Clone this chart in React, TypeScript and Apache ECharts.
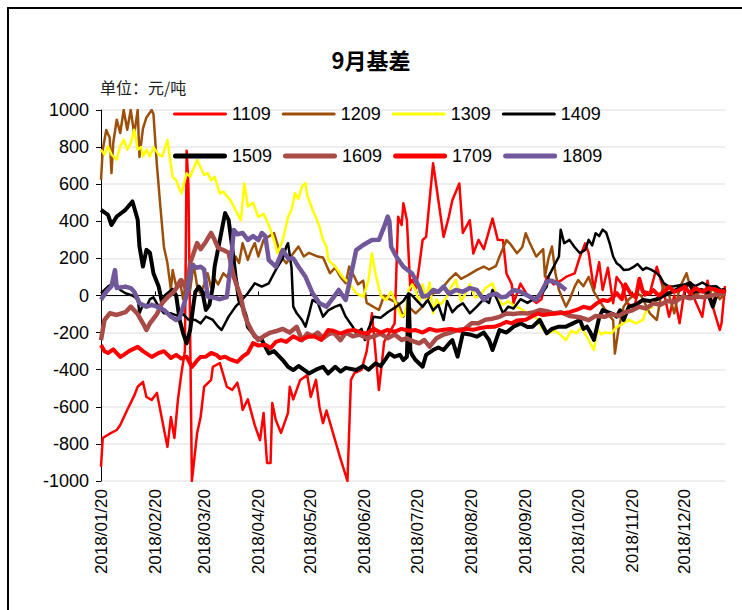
import React, { useEffect, useRef } from "react";
import * as echarts from "echarts";

// day offset from 2018/01/20, basis value (元/吨)
const s1109: number[][] = [[0,-924],[1,-768],[5,-745],[9,-725],[11,-698],[15,-617],[19,-540],[21,-492],[24,-466],[26,-547],[29,-563],[32,-525],[35,-671],[38,-816],[40,-655],[42,-768],[44,-563],[46,-420],[48,-300],[49,780],[50,600],[52,-1000],[55,-741],[57,-655],[59,-492],[63,-455],[64,-385],[68,-364],[72,-492],[75,-509],[78,-470],[80,-547],[81,-617],[84,-560],[88,-700],[91,-779],[93,-633],[95,-903],[97,-903],[98,-579],[100,-671],[103,-741],[107,-633],[108,-492],[110,-560],[114,-455],[118,-428],[120,-547],[123,-455],[125,-601],[127,-688],[129,-620],[133,-750],[137,-880],[141,-1000],[143,-455],[145,-418],[149,-401],[152,-300],[155,-96],[157,-300],[159,-510],[162,-250],[165,-200],[168,-150],[170,425],[172,380],[173,497],[175,407],[177,30],[178,84],[180,30],[182,154],[184,299],[186,316],[190,713],[193,514],[196,316],[199,424],[201,514],[205,604],[207,337],[211,406],[213,226],[216,300],[219,250],[224,415],[227,300],[230,298],[232,118],[235,60],[236,-42],[240,64],[244,0],[249,-40],[252,-20],[255,101],[259,60],[263,80],[266,100],[271,119],[274,209],[277,281],[279,230],[282,30],[285,180],[287,30],[290,150],[293,-42],[295,100],[298,60],[301,-40],[305,-70],[308,60],[311,0],[314,13],[318,155],[321,60],[325,-115],[328,0],[331,-150],[334,40],[337,60],[340,-30],[344,-115],[347,80],[350,-60],[354,-186],[355,-150],[357,50]];
const s1209: number[][] = [[0,624],[1,786],[3,892],[5,850],[6,660],[7,822],[9,948],[11,876],[13,1000],[15,894],[17,1000],[19,870],[21,1000],[22,747],[24,900],[26,960],[29,1000],[30,980],[32,700],[34,477],[36,262],[38,175],[40,30],[41,137],[43,50],[45,84],[47,-20],[49,100],[51,30],[53,170],[55,50],[57,10],[59,60],[61,120],[63,40],[65,90],[67,60],[70,120],[72,100],[75,150],[77,210],[79,175],[81,282],[84,192],[86,245],[88,282],[90,210],[93,300],[96,318],[99,336],[103,210],[106,174],[110,228],[113,264],[116,210],[119,230],[124,210],[127,205],[131,120],[134,150],[137,100],[140,66],[142,156],[145,100],[147,60],[150,80],[152,-40],[159,-78],[162,0],[165,-20],[170,-42],[173,-114],[176,-60],[180,-96],[184,-60],[187,-20],[190,12],[193,20],[196,48],[199,84],[203,120],[206,90],[210,110],[215,138],[219,156],[222,140],[226,160],[228,210],[232,299],[234,280],[238,228],[241,260],[243,336],[245,290],[249,210],[253,250],[254,102],[256,200],[258,264],[260,120],[262,30],[266,-60],[268,-24],[271,48],[273,83],[276,50],[279,100],[282,20],[286,-40],[290,-100],[293,-133],[294,-313],[296,-186],[299,-60],[302,-20],[306,12],[309,0],[314,-96],[318,-132],[320,-20],[322,66],[325,0],[328,-96],[331,40],[335,120],[337,50],[340,0],[344,30],[347,-10],[350,40],[354,-20],[357,10]];
const s1309: number[][] = [[0,786],[2,760],[4,804],[6,760],[9,732],[11,804],[13,840],[15,786],[17,822],[19,894],[21,786],[23,800],[24,750],[26,786],[28,750],[30,800],[33,760],[35,750],[38,838],[41,639],[43,620],[46,550],[49,658],[51,640],[55,730],[57,690],[59,650],[61,660],[63,620],[65,640],[68,550],[70,560],[74,514],[77,460],[80,406],[82,604],[84,480],[87,500],[90,423],[93,440],[96,380],[99,299],[101,228],[104,299],[107,423],[109,462],[111,552],[113,520],[115,588],[117,606],[118,540],[121,462],[123,420],[125,372],[127,300],[129,264],[130,192],[134,156],[138,102],[142,66],[146,12],[150,-6],[153,80],[155,228],[157,120],[160,0],[163,-24],[166,20],[169,-50],[172,-114],[174,-100],[176,30],[178,60],[180,30],[182,-40],[184,60],[186,-20],[188,70],[190,-96],[192,-20],[194,-50],[197,-20],[200,40],[203,84],[206,-30],[208,0],[211,60],[214,-10],[217,0],[220,40],[224,66],[227,-20],[230,-50],[233,-30],[237,-60],[240,-70],[243,-90],[246,-100],[249,-120],[253,-186],[256,-204],[259,-190],[262,-204],[266,-240],[269,-190],[272,-204],[275,-170],[279,-240],[282,-294],[284,-180],[286,-210],[288,-200],[292,-204],[295,-170],[299,-150],[302,-130],[306,-150],[310,-132],[312,-78],[316,-60]];
const s1409: number[][] = [[0,12],[4,48],[7,66],[11,30],[14,12],[18,0],[21,-20],[22,-96],[24,-50],[26,-60],[28,-20],[30,-10],[33,-60],[36,-96],[40,-96],[44,-110],[47,-100],[50,-130],[54,-132],[57,-150],[60,-114],[64,-132],[67,-168],[69,-186],[73,-114],[77,-60],[81,-20],[84,12],[88,66],[92,48],[96,66],[100,138],[104,200],[106,264],[107,282],[109,150],[110,-60],[112,-96],[115,-132],[117,-168],[119,-100],[121,-24],[124,-40],[127,-114],[130,-80],[134,-60],[137,-50],[140,-114],[144,-168],[146,-204],[149,-180],[151,-240],[153,-180],[156,-114],[160,-120],[164,-90],[169,-60],[173,-30],[176,12],[178,0],[181,-30],[184,-60],[187,-24],[190,-80],[193,-50],[196,-132],[198,-30],[201,-90],[204,-60],[207,-42],[211,-96],[215,-60],[219,-20],[222,-40],[224,30],[227,-30],[230,-96],[233,-60],[236,-70],[240,-20],[244,-40],[249,-10],[251,-6],[255,48],[256,102],[259,156],[262,210],[263,355],[265,282],[268,300],[271,260],[274,228],[277,246],[279,300],[281,270],[283,336],[285,320],[287,355],[289,340],[291,282],[293,210],[295,174],[297,160],[299,138],[302,140],[305,156],[307,170],[310,138],[312,150],[315,138],[318,120],[320,100],[322,66],[325,48],[328,50],[331,55],[334,60],[337,70],[340,50],[344,70],[348,48],[352,50],[356,20],[357,10]];
const s1509: number[][] = [[0,462],[4,435],[6,380],[9,426],[14,462],[18,507],[21,408],[22,264],[24,156],[26,246],[28,230],[30,120],[33,48],[35,-42],[37,0],[41,30],[43,0],[45,-132],[47,-204],[49,-258],[51,-186],[53,-42],[54,20],[56,48],[58,20],[60,-78],[62,-50],[64,48],[65,156],[68,300],[71,444],[73,408],[75,264],[77,100],[79,-24],[81,-60],[83,-114],[84,-168],[87,-204],[88,-222],[92,-240],[96,-312],[99,-300],[104,-348],[107,-384],[110,-402],[113,-380],[119,-420],[123,-400],[127,-384],[130,-420],[134,-384],[137,-410],[140,-390],[146,-402],[150,-380],[153,-400],[157,-366],[160,-380],[163,-340],[165,-312],[168,-330],[171,-320],[173,-348],[175,-330],[176,0],[177,-300],[178,-320],[180,-348],[184,-384],[186,-320],[190,-294],[193,-280],[196,-294],[199,-260],[201,-240],[204,-330],[207,-204],[211,-210],[215,-222],[219,-200],[222,-240],[224,-294],[228,-186],[232,-200],[236,-168],[240,-150],[244,-170],[247,-168],[251,-132],[255,-204],[258,-180],[262,-168],[266,-168],[270,-150],[274,-132],[276,-180],[278,-168],[280,-200],[282,-240],[285,-120],[287,-78],[290,-90],[293,-100],[295,-114],[297,-80],[299,-132],[302,-60],[306,-50],[310,-24],[314,-30],[318,-20],[322,0],[325,12],[329,30],[333,50],[337,66],[339,20],[343,30],[347,20],[350,-60],[352,0],[356,30],[357,20]];
const s1609: number[][] = [[0,-240],[2,-132],[5,-96],[9,-105],[14,-90],[17,-60],[21,-100],[24,-150],[26,-186],[28,-150],[32,-100],[35,-40],[38,-10],[41,13],[44,50],[46,83],[49,30],[51,175],[55,283],[57,250],[60,290],[63,337],[65,300],[67,257],[70,245],[73,230],[76,100],[80,-8],[82,-100],[84,-150],[87,-205],[90,-240],[93,-220],[97,-200],[101,-190],[104,-180],[108,-200],[112,-169],[115,-241],[118,-205],[121,-220],[124,-200],[127,-230],[130,-210],[133,-200],[137,-241],[140,-200],[144,-220],[148,-210],[152,-230],[156,-220],[160,-205],[164,-230],[168,-210],[172,-240],[175,-230],[178,-245],[182,-258],[185,-240],[188,-276],[192,-230],[196,-210],[200,-200],[204,-186],[208,-180],[212,-150],[216,-150],[220,-130],[224,-125],[228,-115],[232,-97],[236,-100],[240,-95],[244,-97],[248,-90],[251,-78],[255,-85],[259,-97],[263,-90],[268,-110],[272,-115],[275,-120],[279,-133],[283,-110],[288,-115],[292,-100],[296,-110],[300,-90],[304,-80],[308,-61],[312,-70],[316,-42],[320,-50],[324,-30],[328,-35],[333,-6],[337,-15],[341,-5],[345,-10],[349,0],[353,5],[357,11]];
const s1709: number[][] = [[0,-267],[2,-300],[4,-310],[7,-290],[11,-331],[13,-320],[16,-300],[21,-277],[24,-300],[29,-331],[33,-310],[36,-300],[40,-337],[43,-320],[46,-340],[49,-330],[52,-385],[55,-350],[57,-331],[60,-330],[63,-310],[66,-320],[68,-337],[71,-330],[74,-345],[78,-358],[81,-330],[84,-310],[87,-256],[90,-270],[94,-265],[97,-283],[100,-250],[103,-240],[106,-250],[110,-220],[114,-240],[118,-224],[122,-220],[126,-240],[130,-186],[133,-190],[137,-205],[141,-190],[145,-186],[149,-200],[152,-205],[156,-180],[160,-200],[164,-185],[168,-195],[172,-180],[176,-190],[180,-186],[184,-200],[188,-180],[192,-190],[196,-185],[200,-180],[205,-190],[209,-180],[213,-185],[217,-175],[221,-170],[225,-169],[229,-155],[232,-142],[235,-150],[238,-135],[243,-131],[247,-110],[250,-97],[253,-105],[257,-100],[260,-97],[264,-95],[268,-90],[272,-78],[276,-61],[280,-70],[284,-40],[287,-24],[290,-30],[293,-10],[295,13],[298,-20],[300,60],[303,10],[306,-10],[308,90],[310,20],[314,10],[316,29],[319,0],[322,20],[325,47],[328,20],[331,30],[334,47],[337,10],[340,40],[344,20],[348,40],[352,30],[356,20],[357,30]];
const s1809: number[][] = [[0,-23],[3,20],[6,50],[8,137],[9,40],[14,48],[17,40],[19,20],[22,-42],[26,-60],[29,-50],[32,-60],[36,-78],[40,-114],[43,-132],[45,-120],[47,-60],[49,0],[52,164],[55,150],[57,155],[59,140],[61,-6],[64,-10],[68,-20],[72,-8],[74,150],[76,353],[78,330],[81,337],[84,300],[87,320],[90,299],[92,337],[94,320],[96,191],[100,155],[104,245],[107,200],[110,200],[113,155],[117,101],[121,13],[125,-42],[129,-60],[133,-10],[136,30],[140,-24],[144,155],[146,245],[150,272],[155,299],[159,300],[162,371],[164,425],[165,400],[166,263],[169,209],[173,155],[178,119],[182,47],[184,-6],[187,0],[190,30],[193,20],[196,48],[199,10],[203,30],[207,20],[211,40],[215,30],[219,-24],[222,0],[226,10],[229,-10],[232,-5],[236,30],[240,20],[244,0],[249,-24],[252,20],[255,75],[258,80],[262,60],[266,30]];

const seriesNames = ["1109", "1209", "1309", "1409", "1509", "1609", "1709", "1809"];
const seriesData = [s1109, s1209, s1309, s1409, s1509, s1609, s1709, s1809];
const seriesColors = ["#FF0000", "#9C4F0A", "#FFFF00", "#000000", "#000000", "#A94C48", "#FF0000", "#71589A"];
const seriesWidths = [2.5, 2.5, 2.5, 2.5, 4, 4.5, 4, 4.5];

const startDate = Date.UTC(2018, 0, 20);
const dayCount = 358;
const pad = (n: number) => (n < 10 ? "0" + n : "" + n);
const categories: string[] = [];
for (let i = 0; i < dayCount; i++) {
  const d = new Date(startDate + i * 86400000);
  categories.push(d.getUTCFullYear() + "/" + pad(d.getUTCMonth() + 1) + "/" + pad(d.getUTCDate()));
}
const on20 = (_i: number, v: string) => v.slice(-3) === "/20";

const thinIcon = "path://M1.5,0H52.5A1.5,1.5 0 0 1 52.5,3H1.5A1.5,1.5 0 0 1 1.5,0Z";
const thickIcon = "path://M2.5,0H51.5A2.5,2.5 0 0 1 51.5,5H2.5A2.5,2.5 0 0 1 2.5,0Z";

export default function App() {
  const ref = useRef<HTMLDivElement>(null);
  useEffect(() => {
    if (!ref.current) return;
    const chart = echarts.init(ref.current, undefined, { renderer: "svg" });
    const font = "Liberation Sans";
    const legendBase = {
      left: 168,
      itemWidth: 54,
      itemHeight: 14,
      itemGap: 11,
      symbolKeepAspect: true,
      textStyle: { fontSize: 18, color: "#000", fontFamily: font },
    };
    chart.setOption({
      animation: false,
      backgroundColor: "#fff",
      title: {
        text: "9月基差",
        left: "center",
        top: 43,
        textStyle: { fontSize: 22, fontWeight: "bold", color: "#000", fontFamily: "Noto Sans CJK SC" },
      },
      graphic: [
        {
          type: "rect",
          shape: { x: 8, y: 8, width: 800, height: 800 },
          style: { fill: "none", stroke: "#000", lineWidth: 2 },
          silent: true,
        },
        {
          type: "text",
          left: 100,
          top: 79,
          style: { text: "单位：元/吨", fontSize: 16, fill: "#222", fontFamily: "Noto Sans CJK SC" },
        },
      ],
      legend: [
        {
          ...legendBase,
          top: 100,
          data: seriesNames.slice(0, 4).map((n) => ({ name: n, icon: thinIcon })),
        },
        {
          ...legendBase,
          top: 142,
          data: seriesNames.slice(4).map((n) => ({ name: n, icon: thickIcon })),
        },
      ],
      grid: { left: 101, right: 17, top: 110, bottom: 129, containLabel: false },
      xAxis: [
        {
          type: "category",
          data: categories,
          boundaryGap: false,
          position: "bottom",
          axisLine: { show: false, onZero: false },
          axisTick: { show: false },
          splitLine: { show: false },
          axisLabel: {
            interval: on20,
            rotate: 90,
            margin: 8,
            fontSize: 17,
            color: "#000",
            fontFamily: font,
          },
        },
        {
          type: "category",
          data: categories,
          boundaryGap: false,
          position: "bottom",
          axisLine: { show: true, onZero: true, lineStyle: { color: "#000", width: 1 } },
          axisTick: { show: true, inside: true, length: 4, interval: on20, lineStyle: { color: "#000" } },
          axisLabel: { show: false },
          splitLine: { show: false },
        },
      ],
      yAxis: {
        type: "value",
        min: -1000,
        max: 1000,
        interval: 200,
        axisLine: { show: true, lineStyle: { color: "#000", width: 1 } },
        axisTick: { show: true, length: 5, lineStyle: { color: "#000" } },
        axisLabel: {
          fontSize: 18,
          color: "#000",
          fontFamily: font,
          margin: 12,
          formatter: (v: number) => String(v),
        },
        splitLine: { show: true, lineStyle: { color: "#E8E8E8", width: 1.5 } },
      },
      series: seriesNames.map((name, i) => ({
        name,
        type: "line",
        xAxisIndex: 0,
        symbol: "none",
        showSymbol: false,
        data: seriesData[i].map((p) => [p[0], p[1]]),
        lineStyle: { color: seriesColors[i], width: seriesWidths[i], join: "round" },
        itemStyle: { color: seriesColors[i] },
        emphasis: { disabled: true },
      })),
    });
    return () => chart.dispose();
  }, []);
  return (
    <div
      ref={ref}
      style={{ position: "fixed", left: 0, top: 0, width: 742, height: 610, background: "#fff" }}
    />
  );
}
